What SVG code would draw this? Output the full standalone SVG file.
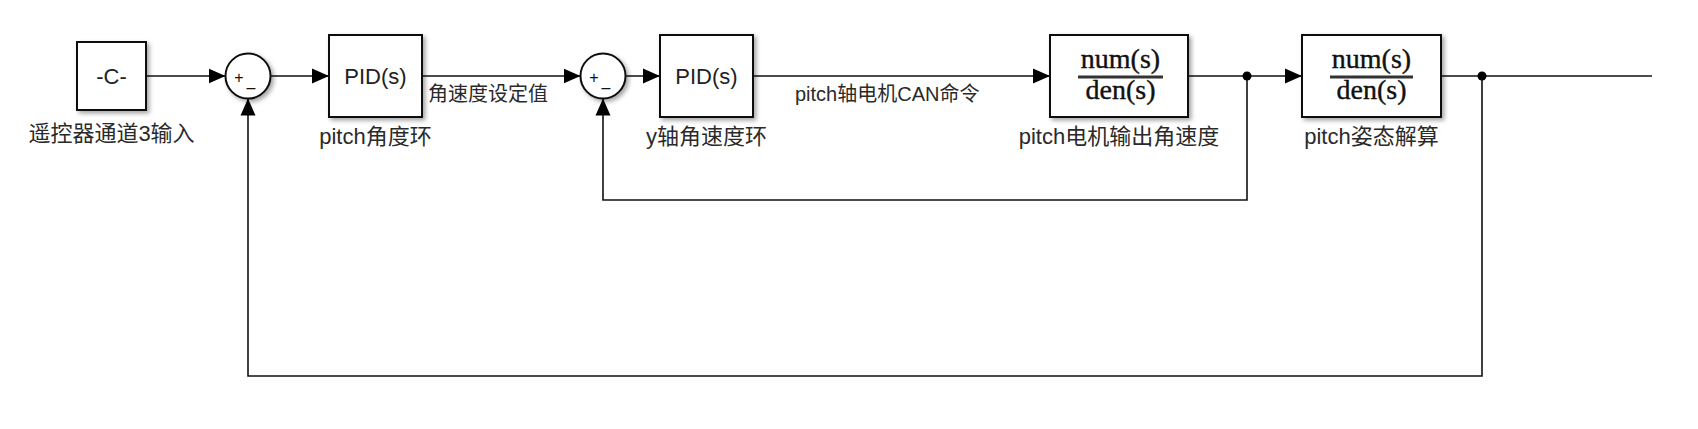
<svg xmlns="http://www.w3.org/2000/svg" width="1698" height="429" viewBox="0 0 1698 429">
<defs>
<filter id="sh" x="-20%" y="-20%" width="150%" height="150%">
<feDropShadow dx="2.5" dy="2.5" stdDeviation="2" flood-color="#000" flood-opacity="0.35"/>
</filter>
<marker id="ah" markerUnits="userSpaceOnUse" markerWidth="17" markerHeight="16" viewBox="0 0 17 16" refX="17" refY="8" orient="auto">
<path d="M0,0.5 L17,8 L0,15.5 Z" fill="#000"/>
</marker>
<style>
.blk{fill:#fff;stroke:#111;stroke-width:2;filter:url(#sh)}
.ln{fill:none;stroke:#111;stroke-width:1.6}
.arr{marker-end:url(#ah)}
.lbl{font-family:"Liberation Sans","Noto Sans CJK SC",sans-serif;font-size:22px;fill:#2a2a2a}
.sig{font-family:"Liberation Sans","Noto Sans CJK SC",sans-serif;font-size:20px;fill:#2a2a2a}
.in{font-family:"Liberation Sans",Arial,sans-serif;font-size:22px;fill:#222;text-anchor:middle}
.tf{font-family:"Liberation Serif","Times New Roman",serif;font-size:28px;fill:#111;stroke:#111;stroke-width:0.4;text-anchor:middle}
.pm{font-family:"Liberation Sans",Arial,sans-serif;font-size:16px;fill:#111;text-anchor:middle}
.dot{fill:#000}
</style>
</defs>
<rect width="1698" height="429" fill="#fff"/>

<g id="connectors">
<line class="ln arr" x1="146" y1="76" x2="225.5" y2="76"/>
<line class="ln arr" x1="270.5" y1="76" x2="329" y2="76"/>
<line class="ln arr" x1="422" y1="76" x2="580.5" y2="76"/>
<line class="ln arr" x1="625.5" y1="76" x2="660" y2="76"/>
<line class="ln arr" x1="753" y1="76" x2="1050" y2="76"/>
<line class="ln arr" x1="1188" y1="76" x2="1302" y2="76"/>
<line class="ln" x1="1441" y1="76" x2="1652" y2="76"/>
<polyline class="ln arr" points="1247,76 1247,200 603,200 603,98.5"/>
<polyline class="ln arr" points="1482,76 1482,376 248,376 248,98.5"/>
<circle class="dot" cx="1247" cy="76" r="4.5"/>
<circle class="dot" cx="1482" cy="76" r="4.5"/>
<text class="sig" x="428" y="101">角速度设定值</text>
<text class="sig" x="795" y="101">pitch轴电机CAN命令</text>
</g>

<g id="const">
<rect class="blk" x="77" y="42" width="69" height="68"/>
<text class="in" x="111.5" y="84">-C-</text>
<text class="lbl" x="111.5" y="141" text-anchor="middle">遥控器通道3输入</text>
</g>

<g id="sum1">
<circle class="blk" cx="248" cy="76" r="22.5"/>
<text class="pm" x="239" y="83">+</text>
<text class="pm" x="251" y="93">–</text>
</g>

<g id="pid1">
<rect class="blk" x="329" y="35" width="93" height="82"/>
<text class="in" x="375.5" y="84">PID(s)</text>
<text class="lbl" x="375.5" y="144" text-anchor="middle">pitch角度环</text>
</g>

<g id="sum2">
<circle class="blk" cx="603" cy="76" r="22.5"/>
<text class="pm" x="594" y="83">+</text>
<text class="pm" x="606" y="93">–</text>
</g>

<g id="pid2">
<rect class="blk" x="660" y="35" width="93" height="82"/>
<text class="in" x="706.5" y="84">PID(s)</text>
<text class="lbl" x="706.5" y="144" text-anchor="middle">y轴角速度环</text>
</g>

<g id="tf1">
<rect class="blk" x="1050" y="35" width="138" height="82"/>
<text class="tf" x="1120.5" y="68">num(s)</text>
<line x1="1078" y1="77" x2="1163" y2="77" stroke="#333" stroke-width="3"/>
<text class="tf" x="1120.5" y="99">den(s)</text>
<text class="lbl" x="1119" y="144" text-anchor="middle">pitch电机输出角速度</text>
</g>

<g id="tf2">
<rect class="blk" x="1302" y="35" width="139" height="82"/>
<text class="tf" x="1371.5" y="68">num(s)</text>
<line x1="1330" y1="77" x2="1413" y2="77" stroke="#333" stroke-width="3"/>
<text class="tf" x="1371.5" y="99">den(s)</text>
<text class="lbl" x="1371.5" y="144" text-anchor="middle">pitch姿态解算</text>
</g>
</svg>
